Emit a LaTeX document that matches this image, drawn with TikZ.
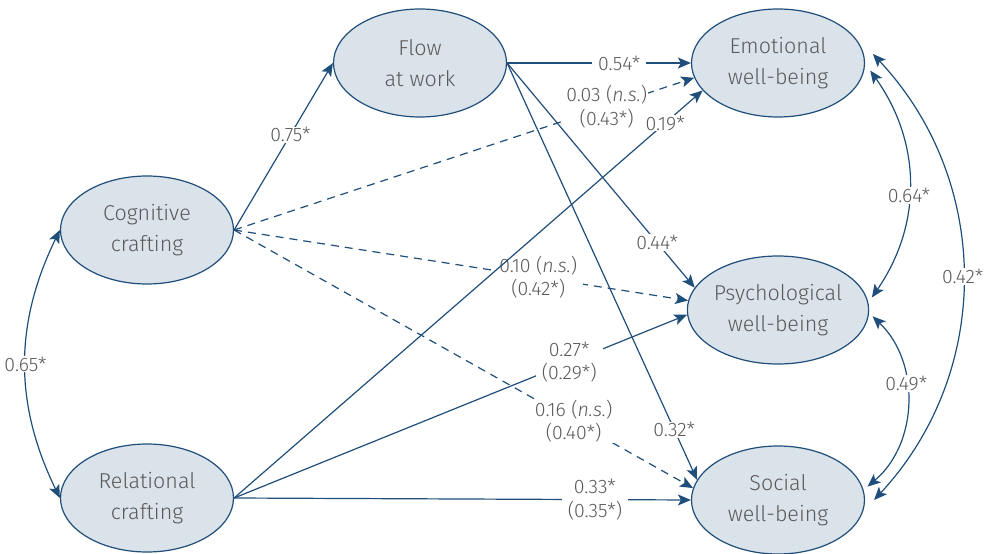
\documentclass[tikz,border=0pt]{standalone}
\usepackage{fontspec}
\setmainfont{Fira Sans Light}
\usetikzlibrary{shapes.geometric,arrows.meta,calc}

\definecolor{pathblue}{HTML}{1F4E7A}
\definecolor{ovalfill}{HTML}{DAE2EA}
\definecolor{labelgray}{HTML}{5A5A5A}

\begin{document}
\begin{tikzpicture}[x=1pt,y=-1pt,
  construct/.style={ellipse,draw=pathblue,line width=1.2pt,fill=ovalfill,
    minimum width=173pt,minimum height=108pt,inner sep=0pt,align=center,
    text=labelgray,font=\fontsize{21.5}{31}\selectfont},
  effect/.style={draw=pathblue,line width=1.2pt,-{Stealth[length=13pt,width=11pt,inset=3pt]}},
  ns/.style={effect,dash pattern=on 8pt off 6pt},
  corr/.style={draw=pathblue,line width=1.2pt,
    {Stealth[length=13pt,width=11pt,inset=3pt]}-{Stealth[length=13pt,width=11pt,inset=3pt]}},
  coef/.style={fill=white,inner xsep=6pt,inner ysep=1pt,align=center,
    text=labelgray,font=\fontsize{19.5}{23.5}\selectfont}]
\useasboundingbox (0,0) rectangle (997,554);

\node[construct] (flow) at (420,63) {Flow\\at work};
\node[construct] (emo) at (778,63) {Emotional\\well-being};
\node[construct] (psy) at (778,310) {Psychological\\well-being};
\node[construct] (soc) at (778,500) {Social\\well-being};
\node[construct] (cog) at (147,230) {Cognitive\\crafting};
\node[construct] (rel) at (147,498) {Relational\\crafting};

\draw[effect] (cog.east) -- node[coef,pos=0.57] {0.75*} (flow.west);
\draw[effect] (flow.east) -- node[coef,pos=0.61] {0.54*} (emo.west);
\draw[effect] (flow.east) -- node[coef,pos=0.8] {0.44*} (psy.165);
\draw[effect] (flow.east) -- node[coef,pos=0.88] {0.32*} (soc.166);

\draw[ns] (cog.east) -- node[coef,pos=0.81,inner xsep=1pt] {0.03 (\textit{n.s.})\\(0.43*)} (emo.190);
\draw[ns] (cog.east) -- node[coef,pos=0.67] {0.10 (\textit{n.s.})\\(0.42*)} (psy.174);
\draw[ns] (cog.east) -- node[coef,pos=0.74] {0.16 (\textit{n.s.})\\(0.40*)} (soc.172);

\draw[effect] (rel.east) -- node[coef,pos=0.92] {0.19*} (emo.200);
\draw[effect] (rel.east) -- node[coef,pos=0.74] {0.27*\\(0.29*)} (psy.183);
\draw[effect] (rel.east) -- node[coef,pos=0.79] {0.33*\\(0.35*)} (soc.west);

\draw[corr] (cog.west) to[bend right=26] node[coef,inner xsep=2pt] {0.65*} (rel.west);
\draw[corr] ($(emo.-5)+(6,0)$) to[bend left=35] node[coef,inner xsep=2pt,pos=0.55] {0.64*} ($(psy.8)+(5,0)$);
\draw[corr] ($(psy.-4)+(4,0)$) to[bend left=48] node[coef,inner xsep=2pt,pos=0.4] {0.49*} ($(soc.9)+(5,0)$);
\draw[corr] ($(emo.6)+(9,0)$) to[bend left=43] node[coef,inner xsep=2pt] {0.42*} ($(soc.0)+(9,0)$);
\end{tikzpicture}
\end{document}
